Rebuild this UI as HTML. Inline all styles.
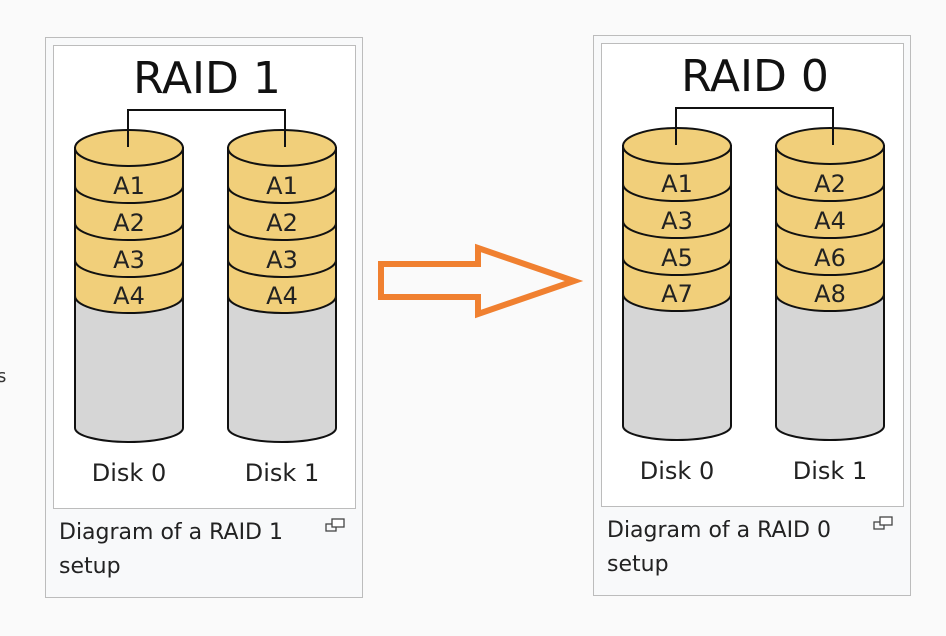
<!DOCTYPE html>
<html><head><meta charset="utf-8"><style>
html,body{margin:0;padding:0;background:#fafafa;}
svg{display:block;font-family:"DejaVu Sans","Liberation Sans",sans-serif;}
</style></head><body>
<svg width="946" height="636" viewBox="0 0 946 636" xmlns="http://www.w3.org/2000/svg">
<rect width="946" height="636" fill="#fafafa"/>
<defs>
<g id="cyl">
  <path d="M-54,148 L-54,428 A54,14 0 0 0 54,428 L54,148 Z" fill="#d6d6d6" stroke="#111" stroke-width="2"/>
  <path d="M-54,148 L-54,296 A54,17 0 0 0 54,296 L54,148 Z" fill="#f1cf7a" stroke="#111" stroke-width="2"/>
  <path d="M-54,186 A54,17 0 0 0 54,186" fill="none" stroke="#111" stroke-width="2"/>
  <path d="M-54,223 A54,17 0 0 0 54,223" fill="none" stroke="#111" stroke-width="2"/>
  <path d="M-54,260 A54,17 0 0 0 54,260" fill="none" stroke="#111" stroke-width="2"/>
  <ellipse cx="0" cy="148" rx="54" ry="18" fill="#f1cf7a" stroke="#111" stroke-width="2"/>
</g>
</defs>

<rect x="45.5" y="37.5" width="317" height="560" fill="#f8f9fa" stroke="#bcbcbc"/>
<rect x="53.5" y="45.5" width="302" height="463" fill="#fff" stroke="#bcbcbc"/>
<text x="207" y="93" font-size="44" text-anchor="middle" fill="#111">RAID 1</text>
<use href="#cyl" x="129" y="0"/>
<use href="#cyl" x="282" y="0"/>
<path d="M128,147 V110 H285 V147" fill="none" stroke="#111" stroke-width="2"/>
<g font-size="24" text-anchor="middle" fill="#222">
<text x="129" y="194">A1</text><text x="129" y="231">A2</text><text x="129" y="268">A3</text><text x="129" y="304">A4</text>
<text x="282" y="194">A1</text><text x="282" y="231">A2</text><text x="282" y="268">A3</text><text x="282" y="304">A4</text>
</g>
<g font-size="24" text-anchor="middle" fill="#222">
<text x="129" y="481">Disk 0</text><text x="282" y="481">Disk 1</text>
</g>
<g font-size="22" fill="#222">
<text x="59" y="539">Diagram of a RAID 1</text>
<text x="59" y="573">setup</text>
</g>
<rect x="326" y="524" width="10" height="7" fill="none" stroke="#444" stroke-width="1.3"/>
<rect x="332" y="519" width="12" height="8" fill="#fff" stroke="#444" stroke-width="1.3"/>

<path d="M381,264 H478 V248 L574,281 L478,314 V297 H381 Z" fill="#fafafa" stroke="#f08030" stroke-width="6" stroke-linejoin="miter"/>

<g transform="translate(548,-2)">
<rect x="45.5" y="37.5" width="317" height="560" fill="#f8f9fa" stroke="#bcbcbc"/>
<rect x="53.5" y="45.5" width="302" height="463" fill="#fff" stroke="#bcbcbc"/>
<text x="207" y="93" font-size="44" text-anchor="middle" fill="#111">RAID 0</text>
<use href="#cyl" x="129" y="0"/>
<use href="#cyl" x="282" y="0"/>
<path d="M128,147 V110 H285 V147" fill="none" stroke="#111" stroke-width="2"/>
<g font-size="24" text-anchor="middle" fill="#222">
<text x="129" y="194">A1</text><text x="129" y="231">A3</text><text x="129" y="268">A5</text><text x="129" y="304">A7</text>
<text x="282" y="194">A2</text><text x="282" y="231">A4</text><text x="282" y="268">A6</text><text x="282" y="304">A8</text>
<text x="129" y="481">Disk 0</text><text x="282" y="481">Disk 1</text>
</g>
<g font-size="22" fill="#222">
<text x="59" y="539">Diagram of a RAID 0</text>
<text x="59" y="573">setup</text>
</g>
<rect x="326" y="524" width="10" height="7" fill="none" stroke="#444" stroke-width="1.3"/>
<rect x="332" y="519" width="12" height="8" fill="#fff" stroke="#444" stroke-width="1.3"/>
</g>
<text x="-3" y="382" font-size="18" fill="#333">s</text>
</svg>
</body></html>
